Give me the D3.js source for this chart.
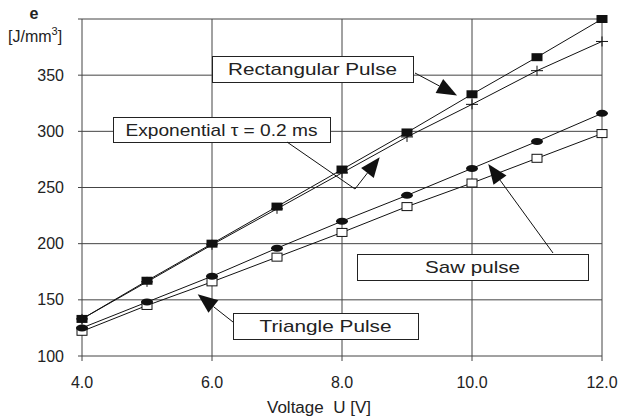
<!DOCTYPE html>
<html>
<head>
<meta charset="utf-8">
<script src="https://cdn.jsdelivr.net/npm/d3@7"></script>
<style>
  body { margin: 0; background: #fff; }
  svg text { font-family: "Liberation Sans", Arial, sans-serif; fill: #222; }
</style>
</head>
<body>
<svg width="619" height="416"></svg>
<script>
var volts = [4, 5, 6, 7, 8, 9, 10, 11, 12];
var rectangular = [133, 167, 200, 233, 266, 299, 333, 366, 400];
var exponential = [133, 166, 199, 231, 263, 295, 324, 354, 380];
var saw = [125, 148, 171, 196, 220, 243, 267, 291, 316];
var triangle = [122, 145, 166, 188, 210, 233, 254, 276, 298];
var xTicks = [4, 6, 8, 10, 12];
var yTicks = [100, 150, 200, 250, 300, 350, 400];
var yTickLabels = ["100", "150", "200", "250", "300", "350", ""];

var svg = d3.select("svg");

var x = d3.scaleLinear().domain([4, 12]).range([82, 602]);
var y = d3.scaleLinear().domain([100, 400]).range([356, 19]);

// grid
svg.append("g").selectAll("line").data(yTicks).enter().append("line")
    .attr("x1", x(4) - 4).attr("x2", x(12))
    .attr("y1", function(d) { return y(d); }).attr("y2", function(d) { return y(d); })
    .attr("stroke", "#444").attr("stroke-width", 1);
svg.append("g").selectAll("line").data(xTicks).enter().append("line")
    .attr("x1", function(d) { return x(d); }).attr("x2", function(d) { return x(d); })
    .attr("y1", y(400)).attr("y2", y(100) + 5)
    .attr("stroke", "#444").attr("stroke-width", 1);

// axes labels
svg.append("g").selectAll("text").data(yTicks).enter().append("text")
    .attr("x", 64).attr("y", function(d) { return y(d) + 5.5; })
    .attr("text-anchor", "end").style("font-size", "16px")
    .text(function(d, i) { return yTickLabels[i]; });
svg.append("g").selectAll("text").data(xTicks).enter().append("text")
    .attr("x", function(d) { return x(d); }).attr("y", 388)
    .attr("text-anchor", "middle").style("font-size", "16px")
    .text(function(d) { return d.toFixed(1); });

svg.append("text").attr("x", 319).attr("y", 413).attr("text-anchor", "middle")
    .style("font-size", "16px").attr("xml:space", "preserve")
    .attr("textLength", 104).attr("lengthAdjust", "spacingAndGlyphs")
    .text("Voltage  U [V]");
svg.append("text").attr("x", 34).attr("y", 19).attr("text-anchor", "middle")
    .style("font-size", "16px").style("font-weight", "bold").text("e");
var yl = svg.append("text").attr("x", 8).attr("y", 42).style("font-size", "16px");
yl.append("tspan").text("[J/mm");
yl.append("tspan").attr("dy", -7).style("font-size", "11px").text("3");
yl.append("tspan").attr("dy", 7).text("]");

// series
var line = d3.line().x(function(d, i) { return x(volts[i]); }).y(function(d) { return y(d); });
[rectangular, exponential, saw, triangle].forEach(function(s) {
    svg.append("path").datum(s).attr("d", line)
        .attr("fill", "none").attr("stroke", "#111").attr("stroke-width", 1);
});

svg.append("g").selectAll("path").data(exponential).enter().append("path")
    .attr("d", function(d, i) {
        var cx = x(volts[i]), cy = y(d);
        return "M" + (cx - 6) + "," + cy + "H" + (cx + 6) + "M" + cx + "," + (cy - 5) + "V" + (cy + 5);
    })
    .attr("stroke", "#111").attr("stroke-width", 1);
svg.append("g").selectAll("rect").data(rectangular).enter().append("rect")
    .attr("x", function(d, i) { return x(volts[i]) - 5.5; })
    .attr("y", function(d) { return y(d) - 4; })
    .attr("width", 11).attr("height", 8).attr("fill", "#111");
svg.append("g").selectAll("rect").data(triangle).enter().append("rect")
    .attr("x", function(d, i) { return x(volts[i]) - 5; })
    .attr("y", function(d) { return y(d) - 4; })
    .attr("width", 10).attr("height", 8).attr("fill", "#fff").attr("stroke", "#111");
svg.append("g").selectAll("ellipse").data(saw).enter().append("ellipse")
    .attr("cx", function(d, i) { return x(volts[i]); })
    .attr("cy", function(d) { return y(d); })
    .attr("rx", 6).attr("ry", 3.5).attr("fill", "#111");

// annotations: boxes in pixels, arrow tips in data units
var notes = [
    { text: "Rectangular Pulse", box: [212, 56, 201, 26], tw: 169,
      path: [[415, 73]], tip: [9.77, 332] },
    { text: "Exponential \u03c4 = 0.2 ms", box: [113, 117, 217, 25], tw: 192,
      path: [[287, 142], [355, 189]], tip: [8.58, 277] },
    { text: "Saw pulse", box: [357, 254, 231, 26], tw: 95,
      path: [[553, 253]], tip: [10.25, 271] },
    { text: "Triangle Pulse", box: [233, 313, 185, 26], tw: 132,
      path: [[233, 322]], tip: [5.78, 155] }
];

notes.forEach(function(n) {
    var b = n.box;
    svg.append("rect").attr("x", b[0] + 0.5).attr("y", b[1] + 0.5)
        .attr("width", b[2]).attr("height", b[3])
        .attr("fill", "#fff").attr("stroke", "#222").attr("stroke-width", 1);
    svg.append("text").attr("x", b[0] + b[2] / 2).attr("y", b[1] + b[3] / 2 + 6)
        .attr("text-anchor", "middle").style("font-size", "17px")
        .attr("textLength", n.tw).attr("lengthAdjust", "spacingAndGlyphs")
        .text(n.text);

    var tx = x(n.tip[0]), ty = y(n.tip[1]);
    var pts = n.path.concat([[tx, ty]]);
    var prev = pts[pts.length - 2];
    var dx = tx - prev[0], dy = ty - prev[1], len = Math.sqrt(dx * dx + dy * dy);
    var ux = dx / len, uy = dy / len, hl = 20, hw = 8;
    var bx = tx - ux * hl, by = ty - uy * hl;
    pts[pts.length - 1] = [bx, by];
    svg.append("path").attr("d", d3.line()(pts))
        .attr("fill", "none").attr("stroke", "#111").attr("stroke-width", 1);
    svg.append("path")
        .attr("d", "M" + tx + "," + ty + "L" + (bx - uy * hw) + "," + (by + ux * hw) +
            "L" + (bx + uy * hw) + "," + (by - ux * hw) + "Z")
        .attr("fill", "#111");
});
</script>
</body>
</html>
